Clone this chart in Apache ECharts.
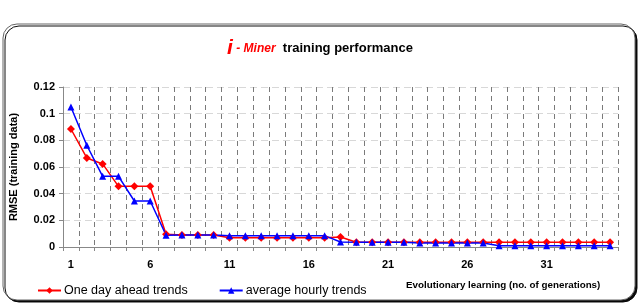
<!DOCTYPE html>
<html>
<head>
<meta charset="utf-8">
<script src="https://cdn.jsdelivr.net/npm/echarts@6/dist/echarts.min.js"></script>
<style>
html,body{margin:0;padding:0;background:#fff;}
#c{width:640px;height:306px;}
</style>
</head>
<body>
<div id="c"></div>
<script>
var generations = [];
for (var g = 1; g <= 35; g++) generations.push(String(g));

var oneDayAhead = [0.0885, 0.0668, 0.0623, 0.0455, 0.0455, 0.0455, 0.0095, 0.009, 0.009, 0.009,
  0.007, 0.007, 0.007, 0.007, 0.007, 0.007, 0.007, 0.0075, 0.0035, 0.0035,
  0.0035, 0.0035, 0.0035, 0.0035, 0.0035, 0.0035, 0.0035, 0.0035, 0.0035, 0.0035,
  0.0035, 0.0035, 0.0035, 0.0035, 0.0035];
var avgHourly = [0.105, 0.0763, 0.053, 0.053, 0.0345, 0.0345, 0.0088, 0.009, 0.009, 0.009,
  0.0085, 0.0085, 0.0085, 0.0085, 0.0085, 0.0085, 0.0085, 0.0038, 0.0035, 0.0035,
  0.0035, 0.0035, 0.003, 0.003, 0.003, 0.003, 0.003, 0.001, 0.001, 0.001,
  0.001, 0.001, 0.001, 0.001, 0.001];
var yTicks = [0, 0.02, 0.04, 0.06, 0.08, 0.1, 0.12];

var FONT = '"Liberation Sans", Arial, sans-serif';
var chart = echarts.init(document.getElementById('c'), null, {renderer: 'canvas'});
chart.setOption({
  animation: false,
  backgroundColor: '#fff',
  textStyle: {fontFamily: FONT},
  graphic: [
    {type: 'rect', z: -10, silent: true,
     shape: {x: 3, y: 24, width: 632, height: 276, r: 14},
     style: {fill: '#fff', stroke: '#666', lineWidth: 1,
             shadowColor: 'rgba(0,0,0,0.95)', shadowOffsetX: 2, shadowOffsetY: 2, shadowBlur: 0}},
    {type: 'text', left: 406, top: 280, silent: true,
     style: {text: 'Evolutionary learning (no. of generations)', fontFamily: FONT,
             fontSize: 9.8, fontWeight: 'bold', fill: '#000'}}
  ],
  title: {
    left: 'center', top: 33,
    text: '{i|i}{m| - Miner}{t|  training performance}',
    textStyle: {
      rich: {
        i: {fontFamily: FONT, fontSize: 21, fontStyle: 'italic', fontWeight: 'bold', color: '#ff0000'},
        m: {fontFamily: FONT, fontSize: 12, fontStyle: 'italic', fontWeight: 'bold', color: '#ff0000'},
        t: {fontFamily: FONT, fontSize: 13, fontWeight: 'bold', color: '#000'}
      }
    }
  },
  legend: {
    left: 32, top: 279, itemWidth: 23, itemHeight: 8, itemGap: 31,
    textStyle: {fontFamily: FONT, fontSize: 12.5, color: '#000', padding: [0, 0, 0, -2]},
    data: ['One day ahead trends', 'average hourly trends']
  },
  grid: {left: 60, right: 22, top: 87, bottom: 59, containLabel: false},
  xAxis: {
    type: 'category', data: generations, boundaryGap: true,
    axisLine: {lineStyle: {color: '#888', width: 1}},
    axisTick: {show: true, interval: 0, length: 4, inside: false, lineStyle: {color: '#888'}},
    axisLabel: {interval: 4, margin: 12, fontFamily: FONT, fontSize: 11, fontWeight: 'bold', color: '#000'},
    splitLine: {show: true, interval: 0, lineStyle: {color: '#7a7a7a', type: [5, 4], width: 1}}
  },
  yAxis: {
    type: 'value', min: yTicks[0], max: yTicks[yTicks.length - 1], interval: 0.02,
    name: 'RMSE (training data)', nameLocation: 'middle', nameGap: 44,
    nameTextStyle: {fontFamily: FONT, fontSize: 11, fontWeight: 'bold', color: '#000'},
    axisLine: {show: true, lineStyle: {color: '#888'}},
    axisTick: {show: true, length: 4, lineStyle: {color: '#888'}},
    axisLabel: {margin: 8, fontFamily: FONT, fontSize: 11, fontWeight: 'bold', color: '#000',
      formatter: function (v) { return String(Math.round(v * 100) / 100); }},
    splitLine: {show: true, lineStyle: {color: '#d8d8d8', type: [7, 4], width: 1}}
  },
  series: [
    {name: 'One day ahead trends', type: 'line', data: oneDayAhead,
     symbol: 'diamond', symbolSize: 8, showAllSymbol: true,
     lineStyle: {color: '#ff0000', width: 1.5}, itemStyle: {color: '#ff0000'}},
    {name: 'average hourly trends', type: 'line', data: avgHourly,
     symbol: 'triangle', symbolSize: 7, showAllSymbol: true,
     lineStyle: {color: '#0000ff', width: 1.5}, itemStyle: {color: '#0000ff'}}
  ]
});
</script>
</body>
</html>
